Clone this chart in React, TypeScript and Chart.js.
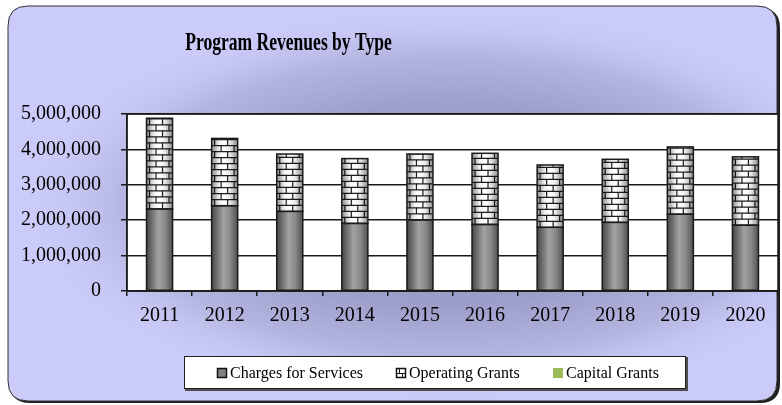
import React, { useEffect, useRef } from "react";
import { Chart, registerables } from "chart.js";

Chart.register(...registerables);

const years = ["2011", "2012", "2013", "2014", "2015", "2016", "2017", "2018", "2019", "2020"];
const chargesForServices = [2320000, 2410000, 2250000, 1910000, 2010000, 1880000, 1800000, 1940000, 2170000, 1860000];
const operatingGrants = [2560000, 1900000, 1620000, 1830000, 1860000, 2010000, 1760000, 1780000, 1900000, 1930000];
const capitalGrants = [0, 0, 0, 0, 0, 0, 0, 0, 0, 0];
const seriesNames = ["Charges for Services", "Operating Grants", "Capital Grants"];
const seriesColors = ["#808080", "#ffffff", "#9bbb59"];
const yMax = 5000000;
const yStep = 1000000;
const chartTitle = "Program Revenues by Type";

const SERIF = "'Liberation Serif', 'Times New Roman', serif";

function roundRect(ctx: CanvasRenderingContext2D, x: number, y: number, w: number, h: number, r: number) {
  ctx.beginPath();
  ctx.moveTo(x + r, y);
  ctx.lineTo(x + w - r, y);
  ctx.quadraticCurveTo(x + w, y, x + w, y + r);
  ctx.lineTo(x + w, y + h - r);
  ctx.quadraticCurveTo(x + w, y + h, x + w - r, y + h);
  ctx.lineTo(x + r, y + h);
  ctx.quadraticCurveTo(x, y + h, x, y + h - r);
  ctx.lineTo(x, y + r);
  ctx.quadraticCurveTo(x, y, x + r, y);
  ctx.closePath();
}

const backgroundPlugin = {
  id: "bgPanel",
  beforeDraw(chart: any) {
    const ctx: CanvasRenderingContext2D = chart.ctx;
    const W = chart.width;
    const H = chart.height;
    ctx.save();
    ctx.fillStyle = "#ffffff";
    ctx.fillRect(0, 0, W, H);
    roundRect(ctx, 10, 8, W - 12, H - 10, 20);
    ctx.fillStyle = "#202020";
    ctx.fill();
    roundRect(ctx, 8, 6, W - 13, H - 10, 20);
    ctx.save();
    ctx.clip();
    ctx.fillStyle = "#cbcbf9";
    ctx.fillRect(0, 0, W, H);
    ctx.translate(450, 205);
    ctx.scale(2.15, 1);
    const g = ctx.createRadialGradient(0, 0, 0, 0, 0, 200);
    g.addColorStop(0, "#8a8ab6");
    g.addColorStop(0.5, "#9e9eca");
    g.addColorStop(0.75, "#b4b4e0");
    g.addColorStop(1, "rgba(203,203,249,0)");
    ctx.fillStyle = g;
    ctx.beginPath();
    ctx.arc(0, 0, 200, 0, Math.PI * 2);
    ctx.fill();
    ctx.restore();
    roundRect(ctx, 8, 6, W - 13, H - 10, 20);
    ctx.strokeStyle = "#303030";
    ctx.lineWidth = 1;
    ctx.stroke();
    const a = chart.chartArea;
    ctx.fillStyle = "#ffffff";
    ctx.fillRect(a.left, a.top, a.right - a.left, a.bottom - a.top);
    ctx.restore();
  },
};

const titlePlugin = {
  id: "customTitle",
  afterDraw(chart: any) {
    const ctx: CanvasRenderingContext2D = chart.ctx;
    ctx.save();
    ctx.fillStyle = "#000000";
    ctx.font = `bold 26px ${SERIF}`;
    ctx.textAlign = "center";
    ctx.textBaseline = "alphabetic";
    ctx.translate(288.5, 50);
    ctx.scale(0.675, 1);
    ctx.fillText(chartTitle, 0, 0);
    ctx.restore();
  },
};

const barPaintPlugin = {
  id: "barPaint",
  afterDatasetsDraw(chart: any) {
    const ctx: CanvasRenderingContext2D = chart.ctx;
    for (let di = 0; di < 2; di++) {
      const meta = chart.getDatasetMeta(di);
      meta.data.forEach((bar: any) => {
        const { x, y, base, width } = bar.getProps(["x", "y", "base", "width"], true);
        const left = x - width / 2;
        const top = Math.min(y, base);
        const h = Math.abs(base - y);
        if (h <= 0) return;
        ctx.save();
        ctx.beginPath();
        ctx.rect(left, top, width, h);
        ctx.clip();
        if (di === 0) {
          const g = ctx.createLinearGradient(left, 0, left + width, 0);
          g.addColorStop(0, "#484848");
          g.addColorStop(0.18, "#6a6a6a");
          g.addColorStop(0.45, "#a2a2a2");
          g.addColorStop(0.72, "#888888");
          g.addColorStop(1, "#505050");
          ctx.fillStyle = g;
          ctx.fillRect(left, top, width, h);
        } else {
          ctx.fillStyle = "#ffffff";
          ctx.fillRect(left, top, width, h);
          const rowH = 6;
          const brickW = 13;
          ctx.strokeStyle = "#1e1e1e";
          ctx.lineWidth = 1.2;
          let row = 0;
          for (let yy = base; yy > top - rowH; yy -= rowH, row++) {
            ctx.beginPath();
            ctx.moveTo(left, yy);
            ctx.lineTo(left + width, yy);
            ctx.stroke();
            const off = row % 2 === 0 ? 0 : brickW / 2;
            for (let xx = left + 3 + off; xx < left + width; xx += brickW) {
              ctx.beginPath();
              ctx.moveTo(xx, yy);
              ctx.lineTo(xx, yy - rowH);
              ctx.stroke();
            }
          }
          const g = ctx.createLinearGradient(left, 0, left + width, 0);
          g.addColorStop(0, "rgba(0,0,0,0.45)");
          g.addColorStop(0.3, "rgba(0,0,0,0.05)");
          g.addColorStop(0.5, "rgba(0,0,0,0)");
          g.addColorStop(0.7, "rgba(0,0,0,0.08)");
          g.addColorStop(1, "rgba(0,0,0,0.45)");
          ctx.fillStyle = g;
          ctx.fillRect(left, top, width, h);
        }
        ctx.restore();
        ctx.save();
        ctx.strokeStyle = "#1a1a1a";
        ctx.lineWidth = 1.5;
        ctx.strokeRect(left, top, width, h);
        ctx.restore();
      });
    }
    const a = chart.chartArea;
    ctx.save();
    ctx.strokeStyle = "#1a1a1a";
    ctx.lineWidth = 1.5;
    ctx.strokeRect(a.left, a.top, a.right - a.left, a.bottom - a.top);
    ctx.restore();
  },
};

const legendPlugin = {
  id: "customLegend",
  afterDraw(chart: any) {
    const ctx: CanvasRenderingContext2D = chart.ctx;
    ctx.save();
    ctx.fillStyle = "#505050";
    ctx.fillRect(185, 357, 503, 34);
    ctx.fillStyle = "#ffffff";
    ctx.fillRect(184, 356, 502, 33);
    ctx.strokeStyle = "#202020";
    ctx.lineWidth = 1;
    ctx.strokeRect(184.5, 356.5, 501, 32);
    const iconX = [217, 396, 553];
    const cy = 373;
    ctx.font = `16px ${SERIF}`;
    ctx.textBaseline = "middle";
    ctx.textAlign = "left";
    seriesNames.forEach((name, i) => {
      const ix = iconX[i];
      const iy = cy - 5;
      if (i === 0) {
        ctx.fillStyle = seriesColors[0];
        ctx.fillRect(ix, iy, 10, 10);
        ctx.strokeStyle = "#111";
        ctx.lineWidth = 1.5;
        ctx.strokeRect(ix + 0.5, iy + 0.5, 9, 9);
      } else if (i === 1) {
        ctx.fillStyle = "#ffffff";
        ctx.fillRect(ix, iy, 10, 10);
        ctx.strokeStyle = "#111";
        ctx.lineWidth = 1.5;
        ctx.strokeRect(ix + 0.5, iy + 0.5, 9, 9);
        ctx.beginPath();
        ctx.moveTo(ix, iy + 5.5);
        ctx.lineTo(ix + 10, iy + 5.5);
        ctx.moveTo(ix + 3.5, iy);
        ctx.lineTo(ix + 3.5, iy + 5.5);
        ctx.moveTo(ix + 6.5, iy + 5.5);
        ctx.lineTo(ix + 6.5, iy + 10);
        ctx.lineWidth = 1;
        ctx.stroke();
      } else {
        ctx.fillStyle = seriesColors[2];
        ctx.fillRect(ix, iy, 10, 10);
      }
      ctx.fillStyle = "#000000";
      ctx.fillText(name, ix + 13, cy + 1);
    });
    ctx.restore();
  },
};

export default function App() {
  const canvasRef = useRef<HTMLCanvasElement | null>(null);

  useEffect(() => {
    document.body.style.margin = "0";
    const canvas = canvasRef.current;
    if (!canvas) return;
    const chart = new Chart(canvas, {
      type: "bar",
      data: {
        labels: years,
        datasets: [
          { label: seriesNames[0], data: chargesForServices, backgroundColor: seriesColors[0], borderWidth: 0 },
          { label: seriesNames[1], data: operatingGrants, backgroundColor: seriesColors[1], borderWidth: 0 },
          { label: seriesNames[2], data: capitalGrants, backgroundColor: seriesColors[2], borderWidth: 0 },
        ],
      },
      options: {
        responsive: false,
        animation: false,
        devicePixelRatio: 1,
        layout: { padding: { top: 114, right: 4, left: 0, bottom: 0 } },
        datasets: { bar: { barPercentage: 0.4, categoryPercentage: 1 } },
        plugins: {
          legend: { display: false },
          title: { display: false },
          tooltip: { enabled: false },
        },
        scales: {
          x: {
            stacked: true,
            afterFit: (s: any) => {
              s.height = 114;
            },
            grid: {
              display: true,
              drawOnChartArea: false,
              offset: true,
              tickLength: 5,
              color: "#1a1a1a",
              lineWidth: 1.5,
            },
            border: { display: true, color: "#1a1a1a", width: 1.5 },
            ticks: {
              color: "#000000",
              padding: 8,
              font: { family: SERIF, size: 20 },
              maxRotation: 0,
            },
          },
          y: {
            stacked: true,
            min: 0,
            max: yMax,
            afterFit: (s: any) => {
              s.width = 127;
            },
            grid: {
              color: "#1a1a1a",
              lineWidth: 1.5,
              tickLength: 6,
            },
            border: { display: true, color: "#1a1a1a", width: 1.5 },
            ticks: {
              stepSize: yStep,
              color: "#000000",
              padding: 20,
              font: { family: SERIF, size: 20 },
              callback: (v: any) => Number(v).toLocaleString("en-US"),
            },
          },
        },
      },
      plugins: [backgroundPlugin, barPaintPlugin, titlePlugin, legendPlugin],
    });
    return () => chart.destroy();
  }, []);

  return (
    <div style={{ width: 782, height: 405, position: "relative" }}>
      <canvas ref={canvasRef} width={782} height={405} style={{ position: "absolute", left: 0, top: 0 }} />
    </div>
  );
}
